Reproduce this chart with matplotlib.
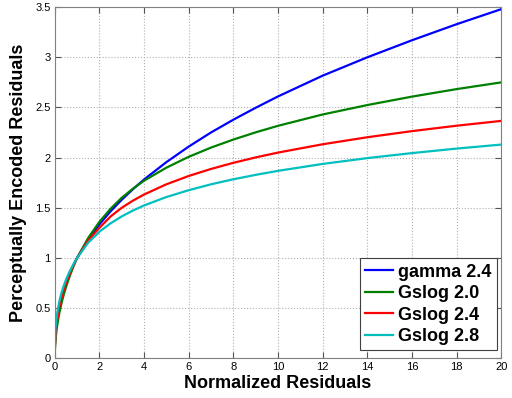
import matplotlib
matplotlib.use("Agg")
import matplotlib.pyplot as plt

plt.rcParams['font.family'] = ['Liberation Sans', 'DejaVu Sans']

x = [0, 0.002, 0.01, 0.03, 0.05, 0.1, 0.2, 0.3, 0.4, 0.5, 0.6, 0.7, 0.8, 0.9, 1,
     1.5, 2, 2.5, 3, 3.5, 4, 5, 6, 7, 8, 9, 10, 12, 14, 16, 18, 20]

gamma_24 = [0, 0.075, 0.147, 0.232, 0.287, 0.383, 0.511, 0.605, 0.683, 0.749, 0.808,
            0.862, 0.911, 0.957, 1, 1.184, 1.335, 1.465, 1.580, 1.685, 1.782, 1.955,
            2.110, 2.251, 2.378, 2.497, 2.610, 2.817, 3.0, 3.17, 3.33, 3.48]
gslog_20 = [0, 0.045, 0.100, 0.173, 0.224, 0.316, 0.447, 0.548, 0.632, 0.707, 0.775,
            0.837, 0.894, 0.949, 1, 1.20, 1.36, 1.49, 1.60, 1.69, 1.77, 1.90,
            2.008, 2.10, 2.18, 2.252, 2.317, 2.43, 2.524, 2.608, 2.683, 2.75]
gslog_24 = [0, 0.07, 0.14, 0.225, 0.28, 0.375, 0.505, 0.60, 0.68, 0.745, 0.805,
            0.86, 0.91, 0.956, 1, 1.175, 1.30, 1.413, 1.50, 1.571, 1.632, 1.734,
            1.817, 1.887, 1.948, 2.002, 2.05, 2.133, 2.203, 2.264, 2.318, 2.366]
gslog_28 = [0, 0.108, 0.193, 0.286, 0.343, 0.439, 0.563, 0.651, 0.721, 0.781, 0.833,
            0.880, 0.923, 0.963, 1, 1.153, 1.261, 1.345, 1.414, 1.472, 1.523, 1.607,
            1.675, 1.734, 1.784, 1.828, 1.868, 1.937, 1.995, 2.045, 2.09, 2.13]

series = [("gamma 2.4", gamma_24, "#0000ff"),
          ("Gslog 2.0", gslog_20, "#008000"),
          ("Gslog 2.4", gslog_24, "#ff0000"),
          ("Gslog 2.8", gslog_28, "#00bfbf")]

x_ticks = [0, 2, 4, 6, 8, 10, 12, 14, 16, 18, 20]
y_ticks = [0, 0.5, 1, 1.5, 2, 2.5, 3, 3.5]

fig = plt.figure(figsize=(5.12, 3.98), dpi=100)
ax = fig.add_axes([0.107, 0.1, 0.872, 0.882])

for label, vals, color in series:
    ax.plot(x, vals, color=color, lw=1.6, label=label)

ax.set_xlim(0, 20)
ax.set_ylim(0, 3.5)
ax.set_xticks(x_ticks)
ax.set_yticks(y_ticks)
ax.set_xticklabels([str(t) for t in x_ticks])
ax.set_yticklabels(["0", "0.5", "1", "1.5", "2", "2.5", "3", "3.5"])
ax.tick_params(direction='in', top=True, right=True, labelsize=8, length=4,
               color='#555555', pad=3)
for s in ax.spines.values():
    s.set_color('#808080')
    s.set_linewidth(0.8)
ax.grid(True, linestyle=':', color='#b0b0b0', linewidth=0.8)

ax.set_xlabel("Normalized Residuals", fontsize=13, fontweight='bold', labelpad=2)
ax.set_ylabel("Perceptually Encoded Residuals", fontsize=13, fontweight='bold', labelpad=6)

leg = ax.legend(loc='lower right', bbox_to_anchor=(0.991, 0.022), borderaxespad=0,
                prop={'size': 13, 'weight': 'bold'}, fancybox=False,
                edgecolor='#404040', framealpha=1, handlelength=1.55, handletextpad=0.3,
                labelspacing=0.25, borderpad=0.3)
leg.get_frame().set_linewidth(0.8)

fig.savefig("out.png", dpi=100)
